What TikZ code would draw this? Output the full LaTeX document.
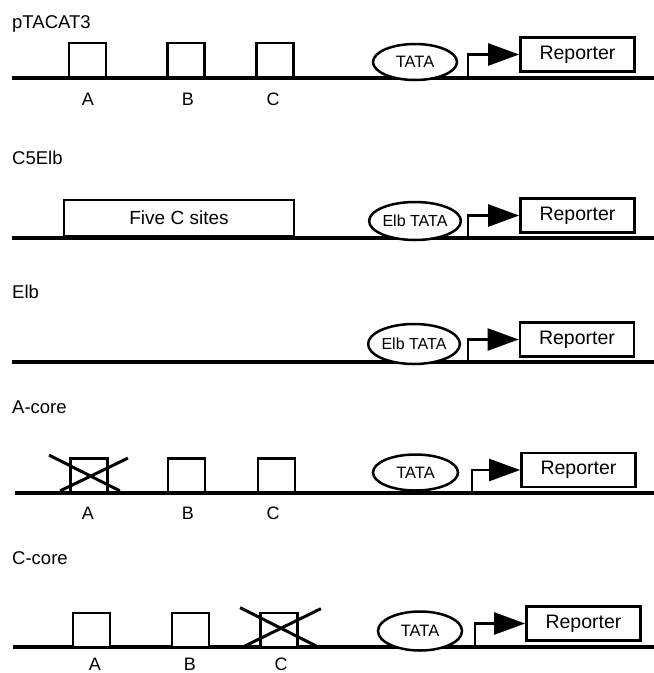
\documentclass[tikz,border=0pt]{standalone}
\usepackage{fontspec}
\setmainfont{Liberation Sans}
\usetikzlibrary{arrows.meta,shapes.geometric,calc}
\begin{document}
\begin{tikzpicture}[x=1pt,y=-1pt,
  dna/.style={line width=4.5pt},
  site/.style={draw,line width=2.7pt,fill=white,minimum width=37pt,minimum height=34pt,inner sep=0pt},
  tata/.style={draw,ellipse,line width=2.5pt,fill=white,inner sep=0pt,font=\fontsize{16.5}{18}\selectfont},
  rep/.style={draw,line width=2.7pt,fill=white,minimum width=114pt,minimum height=34pt,inner sep=0pt,font=\fontsize{19.5}{21}\selectfont},
  prom/.style={line width=2.5pt,-{Triangle[length=31pt,width=22pt]}},
  cross/.style={line width=3pt},
  title/.style={anchor=west,inner sep=0pt,font=\fontsize{18.5}{20}\selectfont},
  lab/.style={inner sep=0pt,font=\fontsize{18}{20}\selectfont}]
\useasboundingbox (0,0) rectangle (654,673);

% ---------- Row 1: pTACAT3 ----------
\node[title] (t1) at (12,24) {pTACAT3};
\coordinate (l1s) at (12,78);
\coordinate (l1e) at (654,78);
\draw[dna] (l1s) -- (l1e);
\node[site] (a1) at (87.5,60) {};
\node[site] (b1) at (186,60) {};
\node[site] (c1) at (275,60) {};
\node[lab] (la1) at (88,99) {A};
\node[lab] (lb1) at (188,99) {B};
\node[lab] (lc1) at (273,99) {C};
\node[tata,minimum width=84pt,minimum height=36pt] (e1) at (415,62) {TATA};
\node[rep] (r1) at (577.5,54.5) {Reporter};
\coordinate (p1) at (468,78);
\draw[prom] (p1) |- (r1.west);

% ---------- Row 2: C5Elb ----------
\node[title] (t2) at (12,158) {C5Elb};
\coordinate (l2s) at (12,238);
\coordinate (l2e) at (654,238);
\draw[dna] (l2s) -- (l2e);
\node[site,minimum width=230pt,minimum height=36pt,font=\fontsize{19}{21}\selectfont] (f2) at (179,218) {Five C sites};
\node[tata,minimum width=84pt,minimum height=38pt,font=\fontsize{16}{18}\selectfont] (e2) at (415,221) {Elb TATA};
\node[rep] (r2) at (577.5,215.5) {Reporter};
\coordinate (p2) at (468,238);
\draw[prom] (p2) |- (r2.west);

% ---------- Row 3: Elb ----------
\node[title] (t3) at (12,292) {Elb};
\coordinate (l3s) at (12,362);
\coordinate (l3e) at (654,362);
\draw[dna] (l3s) -- (l3e);
\node[tata,minimum width=83pt,minimum height=40pt,font=\fontsize{16}{18}\selectfont] (e3) at (414,344) {Elb TATA};
\node[rep] (r3) at (577,339.5) {Reporter};
\coordinate (p3) at (468,362);
\draw[prom] (p3) |- (r3.west);

% ---------- Row 4: A-core ----------
\node[title] (t4) at (12,407) {A-core};
\coordinate (l4s) at (15,493);
\coordinate (l4e) at (654,493);
\draw[dna] (l4s) -- (l4e);
\node[site] (a4) at (89,475.5) {};
\node[site] (b4) at (186.5,475.5) {};
\node[site] (c4) at (276.5,475.5) {};
\draw[cross] ($(a4.north west)+(-20,-2)$) -- ($(a4.south east)+(11,-3)$);
\draw[cross] ($(a4.south west)+(-9,-3)$) -- ($(a4.north east)+(19,1)$);
\node[lab] (la4) at (88,513) {A};
\node[lab] (lb4) at (188,513) {B};
\node[lab] (lc4) at (273,513) {C};
\node[tata,minimum width=85pt,minimum height=36pt] (e4) at (415.5,472.5) {TATA};
\node[rep] (r4) at (578.5,470) {Reporter};
\coordinate (p4) at (472,493);
\draw[prom] (p4) |- (r4.west);

% ---------- Row 5: C-core ----------
\node[title] (t5) at (12,558) {C-core};
\coordinate (l5s) at (13,647);
\coordinate (l5e) at (654,647);
\draw[dna] (l5s) -- (l5e);
\node[site] (a5) at (91.5,630) {};
\node[site] (b5) at (190.5,630) {};
\node[site] (c5) at (279,630) {};
\draw[cross] ($(c5.north west)+(-19,-4)$) -- ($(c5.south east)+(18,-2)$);
\draw[cross] ($(c5.south west)+(-15,-2)$) -- ($(c5.north east)+(22,-3)$);
\node[lab] (la5) at (95,664) {A};
\node[lab] (lb5) at (190,664) {B};
\node[lab] (lc5) at (281,664) {C};
\node[tata,minimum width=84pt,minimum height=39pt] (e5) at (420,631) {TATA};
\node[rep] (r5) at (583.5,623.5) {Reporter};
\coordinate (p5) at (475,647);
\draw[prom] (p5) |- (r5.west);
\end{tikzpicture}
\end{document}
